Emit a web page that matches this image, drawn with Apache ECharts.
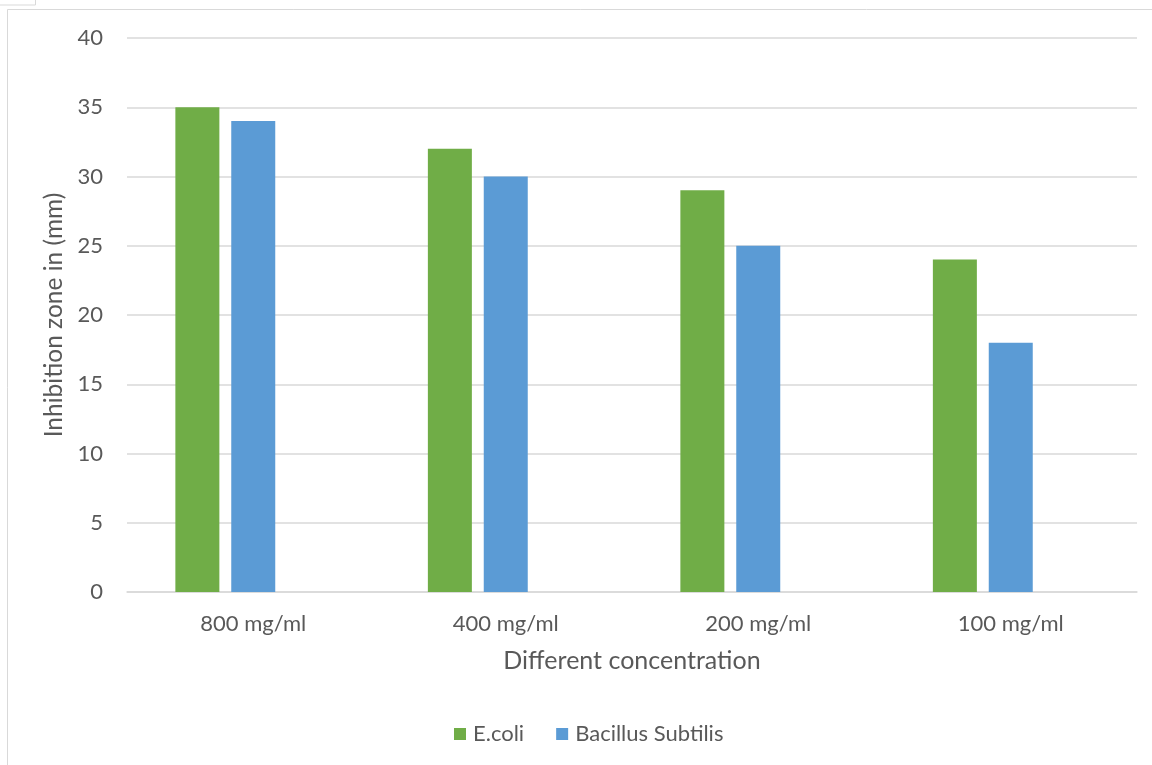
<!DOCTYPE html>
<html>
<head>
<meta charset="utf-8">
<script src="https://cdn.jsdelivr.net/npm/echarts@6/dist/echarts.min.js"></script>
<style>
html,body{margin:0;padding:0;background:#fff;}
#chart{width:1152px;height:765px;}
</style>
</head>
<body>
<div id="chart"></div>
<script>
const categories = ['800 mg/ml', '400 mg/ml', '200 mg/ml', '100 mg/ml'];
const ecoli = [35, 32, 29, 24];
const bacillus = [34, 30, 25, 18];
const emptySeries = [null, null, null, null];
const yTicks = [0, 5, 10, 15, 20, 25, 30, 35, 40];

const FONT = 'Lato';
const TXT = '#595959';
const chart = echarts.init(document.getElementById('chart'), null, {renderer: 'canvas'});
chart.setOption({
  animation: false,
  backgroundColor: '#fff',
  textStyle: {fontFamily: FONT},
  graphic: [
    {type: 'rect', shape: {x: 7.5, y: 9.5, width: 1160, height: 780}, style: {fill: null, stroke: '#D9D9D9', lineWidth: 1}, silent: true},
    {type: 'rect', shape: {x: -5, y: -5, width: 40.5, height: 10}, style: {fill: null, stroke: '#D9D9D9', lineWidth: 1}, silent: true}
  ],
  grid: {left: 127, right: 15, top: 38, bottom: 173, containLabel: false},
  legend: {
    data: ['E.coli', 'Bacillus Subtilis'],
    left: 454, top: 723, padding: 0,
    itemWidth: 12, itemHeight: 12, itemGap: 32,
    icon: 'rect',
    textStyle: {color: TXT, fontSize: 22, fontFamily: FONT, padding: [0,0,0,2]}
  },
  xAxis: {
    type: 'category',
    data: categories,
    name: 'Different concentration',
    nameLocation: 'middle',
    nameGap: 56,
    nameTextStyle: {color: TXT, fontSize: 25, fontFamily: FONT},
    axisLine: {lineStyle: {color: '#D9D9D9', width: 1.5}},
    axisTick: {show: false},
    axisLabel: {color: TXT, fontSize: 22, margin: 21, fontFamily: FONT}
  },
  yAxis: {
    type: 'value',
    min: yTicks[0], max: yTicks[yTicks.length - 1], interval: 5,
    name: 'Inhibition zone in (mm)',
    nameLocation: 'middle',
    nameGap: 54,
    nameTextStyle: {color: TXT, fontSize: 24.5, fontFamily: FONT},
    axisLine: {show: false},
    axisTick: {show: false},
    axisLabel: {color: TXT, fontSize: 22, margin: 24, fontFamily: FONT},
    splitLine: {lineStyle: {color: '#D9D9D9', width: 1.5}}
  },
  series: [
    {name: 'E.coli', type: 'bar', data: ecoli, barWidth: 44, barGap: '27%', itemStyle: {color: '#70AD47'}},
    {name: 'Bacillus Subtilis', type: 'bar', data: bacillus, barWidth: 44, barGap: '27%', itemStyle: {color: '#5B9BD5'}},
    {name: 'Series3', type: 'bar', data: emptySeries, barWidth: 44, barGap: '27%', itemStyle: {color: '#A5A5A5'}}
  ]
});
</script>
</body>
</html>
